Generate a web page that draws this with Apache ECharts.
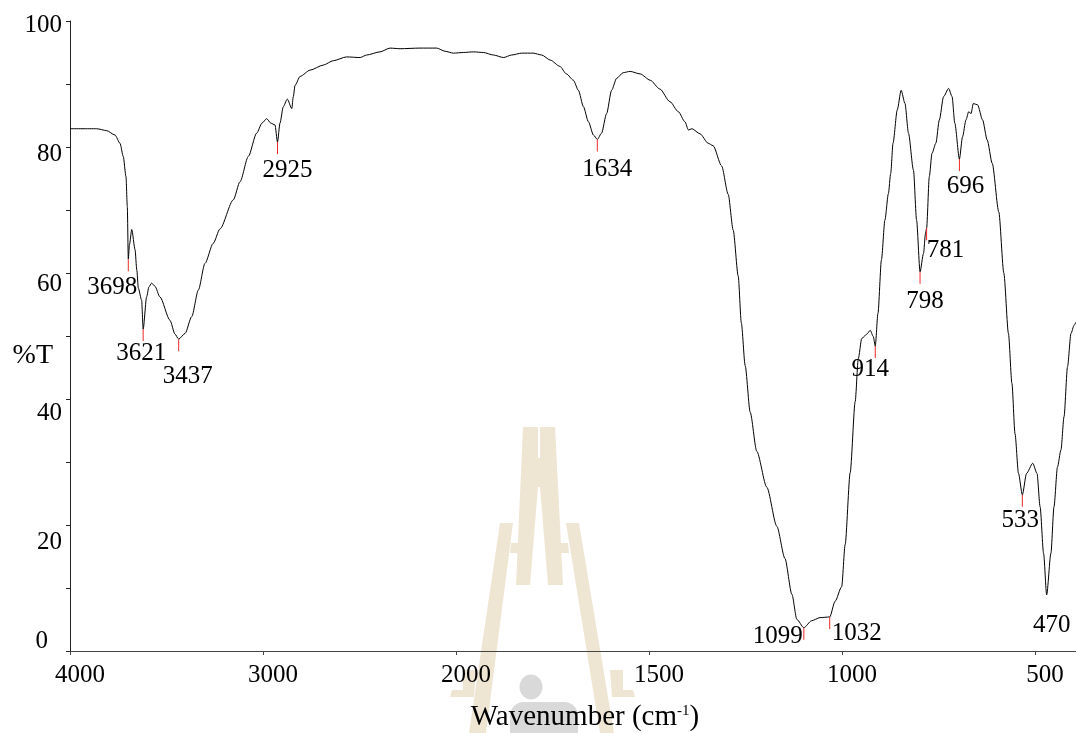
<!DOCTYPE html>
<html>
<head>
<meta charset="utf-8">
<script src="https://cdn.jsdelivr.net/npm/echarts@6/dist/echarts.min.js"></script>
<style>
  html, body { margin: 0; padding: 0; background: #ffffff; }
  #chart { width: 1076px; height: 733px; }
</style>
</head>
<body>
<div id="chart"></div>
<script>
// FT-IR transmittance spectrum (wavenumber in cm-1, transmittance in %T)
const wavenumber = [
  4000, 3862, 3810, 3767, 3741, 3724, 3710, 3703, 3698, 3692,
  3680, 3663, 3654, 3646, 3629, 3621, 3603, 3591, 3577, 3560,
  3534, 3482, 3456, 3437, 3404, 3369, 3335, 3301, 3258, 3223,
  3154, 3119, 3076, 3033, 3005, 2981, 2960, 2938, 2925, 2912,
  2895, 2874, 2851, 2843, 2834, 2808, 2756, 2688, 2636, 2567,
  2497, 2463, 2394, 2342, 2290, 2187, 2100, 2057, 2014, 1981,
  1955, 1929, 1903, 1877, 1856, 1830, 1800, 1778, 1756, 1731,
  1714, 1696, 1683, 1670, 1657, 1644, 1634, 1623, 1610, 1597,
  1584, 1567, 1549, 1523, 1497, 1472, 1446, 1424, 1407, 1398,
  1389, 1368, 1347, 1334, 1312, 1295, 1282, 1269, 1261, 1251,
  1238, 1221, 1195, 1169, 1148, 1130, 1117, 1099, 1079, 1057,
  1032, 1018, 1001, 992, 979, 966, 958, 949, 936, 927,
  919, 914, 907, 898, 889, 880, 874, 868, 857, 847,
  837, 828, 815, 807, 798, 789, 784, 781, 774, 767,
  757, 748, 737, 724, 715, 708, 696, 688, 679, 672,
  666, 660, 649, 636, 624, 611, 594, 581, 569, 560,
  552, 543, 533, 522, 506, 495, 487, 478, 470, 459,
  451, 442, 433, 425, 416, 407, 399, 394
];
const transmittance = [
  82.9, 82.9, 82.6, 81.9, 80.6, 78.5, 75.3, 70.5, 62.2, 64.5,
  66.9, 63.7, 60.5, 57.6, 55.7, 51.1, 56.2, 57.8, 58.4, 57.9,
  56.2, 52.5, 50.3, 49.5, 50.4, 53.1, 57.3, 61.5, 64.7, 67.0,
  71.6, 74.5, 78.5, 82.2, 83.8, 84.5, 83.8, 83.5, 80.8, 83.8,
  86.4, 87.6, 86.1, 88.0, 89.8, 91.2, 92.2, 93.0, 93.7, 94.3,
  94.2, 94.6, 95.1, 95.7, 95.6, 95.7, 95.7, 95.2, 94.9, 95.0,
  95.1, 95.0, 94.6, 94.2, 94.6, 94.9, 94.9, 94.6, 93.8, 92.8,
  91.6, 90.6, 89.0, 86.4, 84.0, 81.9, 81.2, 82.2, 85.3, 89.0,
  90.9, 91.8, 92.0, 91.6, 90.6, 89.2, 87.2, 85.6, 84.0, 82.7,
  82.9, 82.1, 80.6, 80.2, 77.0, 72.5, 66.8, 59.5, 52.1, 45.3,
  37.9, 31.7, 26.0, 19.8, 14.7, 9.0, 5.0, 3.7, 4.8, 5.3,
  5.4, 7.9, 10.2, 16.9, 28.3, 39.6, 46.4, 49.6, 50.3, 50.9,
  49.9, 48.4, 53.6, 62.1, 68.4, 72.6, 75.8, 80.6, 85.9, 89.0,
  86.9, 82.2, 76.3, 68.4, 60.2, 63.1, 66.2, 67.1, 75.3, 79.0,
  80.6, 84.3, 88.0, 89.3, 88.0, 83.8, 78.1, 81.6, 84.3, 85.6,
  85.3, 86.9, 86.7, 84.3, 81.1, 77.4, 69.7, 60.0, 50.4, 42.5,
  34.5, 28.2, 24.8, 28.2, 29.8, 28.2, 22.9, 15.5, 8.9, 15.5,
  22.9, 29.2, 31.9, 37.2, 45.1, 50.4, 51.7, 52.2
];

// labelled absorption bands
const peakWavenumbers = [3698, 3621, 3437, 2925, 1634, 1099, 1032, 914, 798, 781, 696, 533, 470];
const unmarkedPeaks = [470];

const xTickLabels = [4000, 3000, 2000, 1500, 1000, 500];
const yTickLabels = [0, 20, 40, 60, 80, 100];
const xRangeEnd = 394;

// The wavenumber axis is compressed 2:1 above 2000 cm-1.
function toAxis(w) { return w >= 2000 ? (4000 - w) / 2 : 1000 + (2000 - w); }
function fromAxis(u) { return u <= 1000 ? 4000 - 2 * u : 2000 - (u - 1000); }

const FONT = 'Liberation Serif';

const spectrum = wavenumber.map((w, i) => [toAxis(w), transmittance[i]]);
const peakValue = w => transmittance[wavenumber.indexOf(w)];

// where each band label sits relative to its band minimum (px)
const labelOffset = {
  3698: [-16, 28], 3621: [-2, 24], 3437: [9, 37], 2925: [10, 28], 1634: [10, 30],
  1099: [-26, 9], 1032: [27, 16], 914: [-5, 23], 798: [5, 30], 781: [19, 22],
  696: [6, 27], 533: [-2, 26], 470: [5, 31]
};

// y tick label nudges
const yRich = {};
yTickLabels.forEach(v => {
  if (v === 0) {
    yRich['v' + v] = { fontFamily: FONT, fontSize: 25, color: '#000', padding: [0, 14, 20, 0] };
  } else {
    const d = Math.round(2 * (21 - 0.17 * v));
    yRich['v' + v] = { fontFamily: FONT, fontSize: 25, color: '#000', padding: [d, 0, 0, 0] };
  }
});

const yMinorTicks = [];
for (let v = 0; v <= 100; v += 10) yMinorTicks.push(v);

const beige = '#EFE5D3';
const grey = '#D9D9D9';
const emblem = [
  [[523,427],[538,427],[538,458],[540,458],[540,427],[555,427],[563,585],[548,585],[540,487],[538,487],[530,585],[516,585]],
  [[500,523],[513,523],[486,733],[469,733]],
  [[566,523],[579,523],[614,733],[600,733]],
  [[511,543],[521,543],[520,553],[510,553]],
  [[557,543],[568,543],[569,553],[558,553]],
  [[463,670],[476,670],[474,697],[450,697],[452,690],[463,690]],
  [[610,670],[623,670],[623,690],[633,690],[635,697],[612,697]]
];

const chart = echarts.init(document.getElementById('chart'), null, { renderer: 'canvas' });

chart.setOption({
  animation: false,
  backgroundColor: '#ffffff',
  graphic: {
    elements: emblem.map(pts => ({
      type: 'polygon', z: -10, silent: true,
      shape: { points: pts }, style: { fill: beige }
    })).concat([
      { type: 'ellipse', z: -10, silent: true, shape: { cx: 531, cy: 687, rx: 11.5, ry: 12.5 }, style: { fill: grey } },
      { type: 'rect', z: -10, silent: true, shape: { x: 510, y: 702, width: 68, height: 40, r: [14, 14, 0, 0] }, style: { fill: grey } }
    ])
  },
  grid: { left: 70, right: 0, top: 21, bottom: 82, containLabel: false, outerBoundsMode: 'none' },
  xAxis: {
    type: 'value',
    min: 0,
    max: toAxis(xRangeEnd),
    interval: 500,
    name: '{a|Wavenumber (cm}{s|-1}{a|)}',
    nameLocation: 'middle',
    nameGap: 52,
    nameMoveOverlap: false,
    nameTextStyle: {
      padding: [0, 0, 0, 24],
      rich: {
        a: { fontFamily: FONT, fontSize: 29, color: '#000' },
        s: { fontFamily: FONT, fontSize: 15, color: '#000', padding: [0, 0, 12, 0] }
      }
    },
    axisLine: { show: true, onZero: false, lineStyle: { color: '#444', width: 1 } },
    axisTick: { show: true, length: 4, customValues: xTickLabels.map(toAxis), lineStyle: { color: '#444' } },
    axisLabel: {
      customValues: xTickLabels.map(toAxis),
      formatter: u => String(Math.round(fromAxis(u))),
      fontFamily: FONT, fontSize: 25, color: '#000',
      margin: 12, padding: [0, 0, 0, 20]
    },
    splitLine: { show: false }
  },
  yAxis: {
    type: 'value',
    min: 0,
    max: 100,
    interval: 20,
    name: '{t|%T}',
    nameLocation: 'middle',
    nameRotate: 0,
    nameGap: 17,
    nameMoveOverlap: false,
    nameTextStyle: {
      rich: { t: { fontFamily: FONT, fontSize: 28, color: '#000', padding: [40, 0, 0, 0] } }
    },
    axisLine: { show: true, lineStyle: { color: '#222', width: 1 } },
    axisTick: { show: true, length: 4, customValues: yMinorTicks, lineStyle: { color: '#222' } },
    axisLabel: {
      customValues: yTickLabels,
      formatter: v => '{v' + v + '|' + v + '}',
      rich: yRich,
      margin: 8
    },
    splitLine: { show: false }
  },
  series: [
    {
      name: 'Transmittance',
      type: 'line',
      data: spectrum,
      showSymbol: false,
      smooth: 0.25,
      smoothMonotone: 'x',
      lineStyle: { color: '#000', width: 1 },
      z: 3
    },
    {
      name: 'Band markers',
      type: 'scatter',
      data: peakWavenumbers.filter(w => unmarkedPeaks.indexOf(w) < 0).map(w => [toAxis(w), peakValue(w)]),
      symbol: 'rect',
      symbolSize: [1, 12],
      symbolOffset: [0, 6],
      itemStyle: { color: '#f02828', opacity: 1 },
      z: 4
    },
    {
      name: 'Band labels',
      type: 'scatter',
      data: peakWavenumbers.map(w => ({
        value: [toAxis(w), peakValue(w)],
        label: { offset: labelOffset[w] }
      })),
      symbol: 'circle',
      symbolSize: 1,
      itemStyle: { color: 'rgba(0,0,0,0)', opacity: 1 },
      label: {
        show: true,
        position: 'inside',
        formatter: p => String(peakWavenumbers[p.dataIndex]),
        fontFamily: FONT, fontSize: 25, color: '#000',
        textBorderWidth: 0
      },
      z: 5
    }
  ]
});
</script>
</body>
</html>
